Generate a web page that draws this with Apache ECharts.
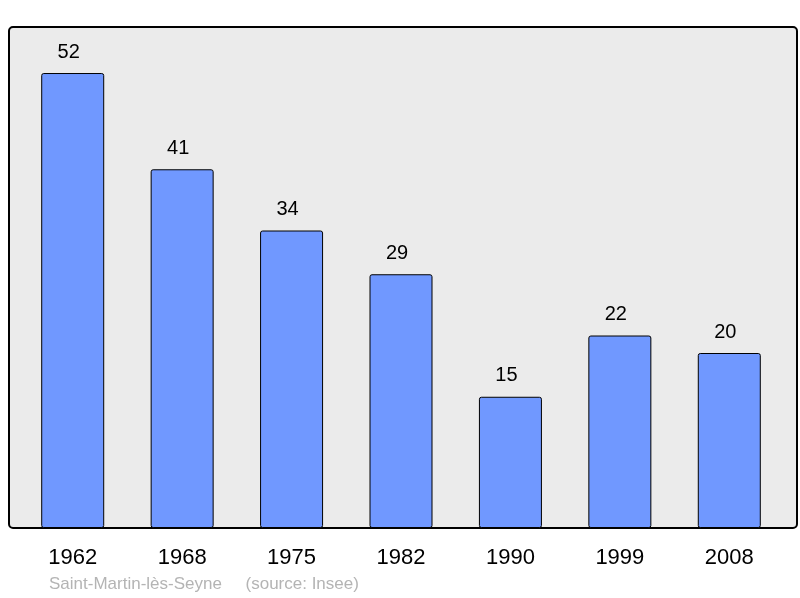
<!DOCTYPE html>
<html>
<head>
<meta charset="utf-8">
<script src="https://cdn.jsdelivr.net/npm/echarts@6/dist/echarts.min.js"></script>
<style>
  html, body { margin: 0; padding: 0; background: #fff; }
  #chart { width: 800px; height: 598px; }
</style>
</head>
<body>
<div id="chart"></div>
<script>
// population by census year
var years = ['1962', '1968', '1975', '1982', '1990', '1999', '2008'];
var population = [52, 41, 34, 29, 15, 22, 20];
var footer = 'Saint-Martin-lès-Seyne     (source: Insee)';

var chart = echarts.init(document.getElementById('chart'));
var option = {
    animation: false,
    textStyle: { fontFamily: 'Liberation Sans, Arial, sans-serif' },
    grid: { left: 18, right: 16, top: 27, bottom: 70, containLabel: false },
    graphic: [
        {
            type: 'rect',
            z: -10,
            shape: { x: 9, y: 27, width: 788, height: 501, r: 4 },
            style: { fill: '#ebebeb', stroke: '#000', lineWidth: 2 }
        },
        {
            type: 'text',
            x: 49, y: 584,
            style: {
                text: footer,
                fill: '#b4b4b4',
                fontSize: 17,
                fontFamily: 'Liberation Sans, Arial, sans-serif',
                verticalAlign: 'middle'
            }
        }
    ],
    xAxis: {
        type: 'category',
        data: years,
        axisLine: { show: false },
        axisTick: { show: false },
        axisLabel: { color: '#000', fontSize: 22, margin: 19 }
    },
    yAxis: {
        type: 'value',
        min: 0,
        max: 57.26,
        show: false,
        splitLine: { show: false }
    },
    series: [{
        type: 'bar',
        data: population,
        barWidth: 63,
        itemStyle: {
            color: '#7098ff',
            borderColor: '#000',
            borderWidth: 1,
            borderRadius: 2
        },
        label: {
            show: true,
            position: 'top',
            distance: 11,
            offset: [-4, 0],
            color: '#000',
            fontSize: 20
        }
    }]
};
chart.setOption(option);
</script>
</body>
</html>
